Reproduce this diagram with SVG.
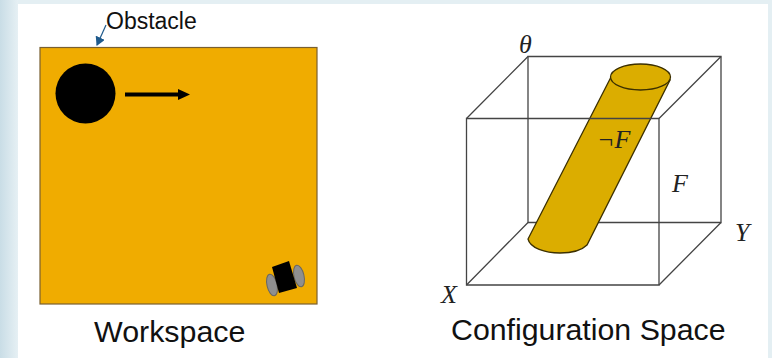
<svg xmlns="http://www.w3.org/2000/svg" width="772" height="358" viewBox="0 0 772 358">
<defs>
<linearGradient id="bg" x1="0" y1="0" x2="1" y2="0"><stop offset="0" stop-color="#c9dde6"/><stop offset="1" stop-color="#e6f0f4"/></linearGradient>
<marker id="tip" markerUnits="userSpaceOnUse" markerWidth="9" markerHeight="10" refX="8" refY="5" orient="auto"><path d="M0 0L9 5L0 10Z" fill="#1f5a8c"/></marker>
</defs>
<style>
.lbl{font-family:"Liberation Sans",Arial,sans-serif;fill:#111}
.math{font-family:"Liberation Serif","Times New Roman",serif;font-style:italic;fill:#222;font-size:26px}
.edge{fill:none;stroke:#444;stroke-width:1.3}
.cyl{fill:#dbad00;stroke:#3c3000;stroke-width:1.3}
</style>
<rect width="772" height="358" fill="#e4eff3"/>
<rect width="18" height="358" fill="url(#bg)"/>
<rect x="18" y="4" width="750" height="354" fill="#fff"/>
<g id="workspace">
<rect x="40" y="47.500" width="277" height="256.500" fill="#f0ac00" stroke="#7a6030" stroke-width="1.200"/>
</g>
<g id="disc"><circle cx="85.500" cy="93.500" r="30" fill="#000"/></g>
<g id="robot">
<ellipse cx="272" cy="285" rx="5" ry="11" fill="#8f8f8f" stroke="#666" transform="rotate(-13 272 285)"/>
<ellipse cx="299" cy="276" rx="5" ry="11" fill="#8f8f8f" stroke="#666" transform="rotate(-13 299 276)"/>
<polygon points="272,267 289,261 297,288 279,293" fill="#000"/>
</g>
<g id="obstacle-label"><text class="lbl" x="106" y="29" font-size="23">Obstacle</text></g>
<g id="workspace-label"><text class="lbl" x="94" y="342" font-size="30.400">Workspace</text></g>
<g id="cspace-label"><text class="lbl" x="451" y="340" font-size="30.300">Configuration Space</text></g>
<g id="cube-back">
<path class="edge" d="M528 56.500H721V222.500H528Z"/>
<path class="edge" d="M528 222.500L466.500 285M721 222.500L659 285"/>
</g>
<g id="cylinder">
<path class="cyl" d="M611 77L528 239C530 248 545 253 560 253C572 253 582 250 587 245L670 80Z"/>
<ellipse class="cyl" cx="640.500" cy="77" rx="30" ry="13"/>
</g>
<g id="cube-front">
<path class="edge" d="M466.500 118.500H659V285H466.500Z"/>
<path class="edge" d="M528 56.500L466.500 118.500M721 56.500L659 118.500"/>
</g>
<g id="theta"><text class="math" x="519" y="53">θ</text></g>
<g id="notf"><text class="math" x="597" y="148">¬F</text></g>
<g id="f"><text class="math" x="672" y="192">F</text></g>
<g id="y"><text class="math" x="735" y="241">Y</text></g>
<g id="x"><text class="math" x="441" y="303">X</text></g>
<g id="connectors">
<path d="M106 25L97 45" fill="none" stroke="#1f5a8c" stroke-width="1.200" marker-end="url(#tip)"/>
<path d="M125 94.500H180" fill="none" stroke="#000" stroke-width="4"/>
<path d="M178 89L190 94.500L178 100Z" fill="#000"/>
</g>
</svg>
